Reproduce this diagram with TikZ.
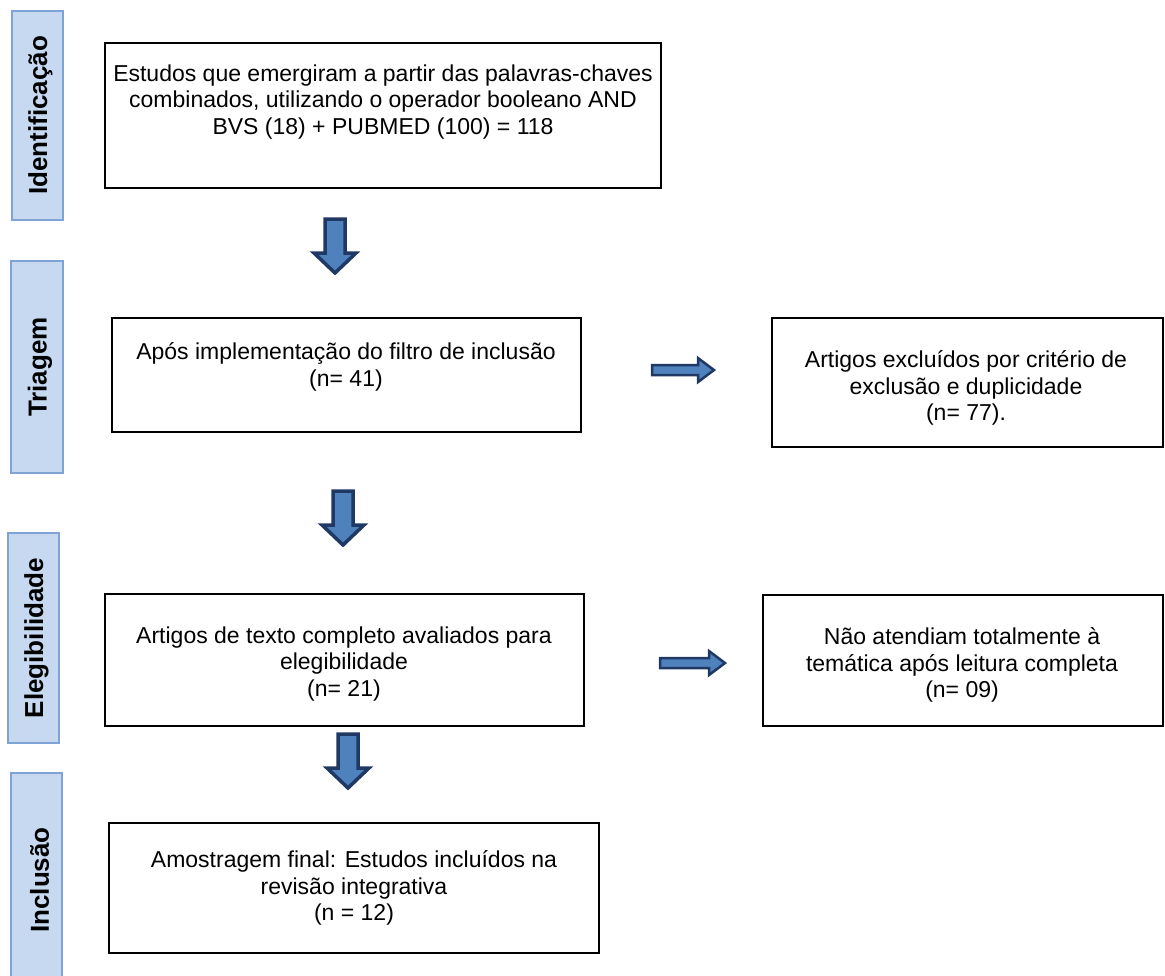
\documentclass[tikz,border=0pt]{standalone}
\usepackage{fontspec}
\setmainfont{Liberation Sans}
\definecolor{lblfill}{HTML}{C6D9F1}
\definecolor{lbldraw}{HTML}{7FA3D4}
\definecolor{arrfill}{HTML}{4F81BD}
\definecolor{arrdraw}{HTML}{1F3864}
\tikzset{
  boxshape/.style={draw=black, line width=1.6pt, rectangle, inner sep=0pt},
  boxtext/.style={align=center, inner sep=0pt, font=\fontsize{23}{26.6}\selectfont},
  stagebox/.style={draw=lbldraw, fill=lblfill, line width=1.5pt, rectangle, inner sep=0pt},
  stagetext/.style={rotate=90, inner sep=0pt, font=\fontsize{26}{30}\selectfont\bfseries},
  blockarrow/.style={fill=arrfill, draw=arrdraw, line width=3.5pt, line join=miter}
}
\newcommand\downblock[3]{% cx, top, tip
  \draw[blockarrow] ({#1-10},#2) -- ({#1+10},#2) -- ({#1+10},{#3-20}) -- ({#1+21},{#3-20})
    -- (#1,#3) -- ({#1-21},{#3-20}) -- ({#1-10},{#3-20}) -- cycle;}
\newcommand\rightblock[3]{% cy, left, tip
  \draw[blockarrow, line width=2.5pt] (#2,{#1-5}) -- ({#3-16},{#1-5}) -- ({#3-16},{#1-12})
    -- (#3,#1) -- ({#3-16},{#1+12}) -- ({#3-16},{#1+5}) -- (#2,{#1+5}) -- cycle;}
\begin{document}
\begin{tikzpicture}[x=1pt, y=-1pt]
\useasboundingbox (0,0) rectangle (1165,975);
\clip (0,0) rectangle (1165,975);

% stage labels
\node[stagebox, minimum width=51pt, minimum height=209pt] (s1) at (37.5,115.5) {};
\node[stagetext] (s1t) at ([xshift=3pt]s1.center) {Identificação};
\node[stagebox, minimum width=52pt, minimum height=212pt] (s2) at (37,367) {};
\node[stagetext] (s2t) at ([xshift=3pt]s2.center) {Triagem};
\node[stagebox, minimum width=51pt, minimum height=210pt] (s3) at (33.5,638) {};
\node[stagetext] (s3t) at ([xshift=3pt]s3.center) {Elegibilidade};
\node[stagebox, minimum width=51pt, minimum height=214pt] (s4) at (36.5,880) {};
\node[stagetext] (s4t) at ([xshift=3pt]s4.center) {Inclusão};

% boxes
\node[boxshape, minimum width=556pt, minimum height=145pt] (b1) at (383,115.5) {};
\node[boxtext] (b1t) at (383,102) {Estudos que emergiram a partir das palavras-chaves\\combinados, utilizando o operador booleano AND\\BVS (18) + PUBMED (100) = 118};

\node[boxshape, minimum width=469pt, minimum height=114pt] (b2) at (346.5,375) {};
\node[boxtext] (b2t) at (346,367) {Após implementação do filtro de inclusão\\(n= 41)};

\node[boxshape, minimum width=391pt, minimum height=129pt] (b3) at (967.5,382.5) {};
\node[boxtext] (b3t) at (966,388) {Artigos excluídos por critério de\\exclusão e duplicidade\\(n= 77).};

\node[boxshape, minimum width=479pt, minimum height=132pt] (b4) at (344.5,660) {};
\node[boxtext] (b4t) at (344,664) {Artigos de texto completo avaliados para\\elegibilidade\\(n= 21)};

\node[boxshape, minimum width=400pt, minimum height=131pt] (b5) at (963,660.5) {};
\node[boxtext] (b5t) at (962,665) {Não atendiam totalmente à\\temática após leitura completa\\(n= 09)};

\node[boxshape, minimum width=490pt, minimum height=130pt] (b6) at (354,888) {};
\node[boxtext] (b6t) at (354,888) {Amostragem final: Estudos incluídos na\\revisão integrativa\\(n = 12)};

% block arrows
\downblock{335}{219}{273}
\downblock{343}{491}{545}
\downblock{348}{734}{788}
\rightblock{370}{652}{714}
\rightblock{663}{660}{725}
\end{tikzpicture}
\end{document}
